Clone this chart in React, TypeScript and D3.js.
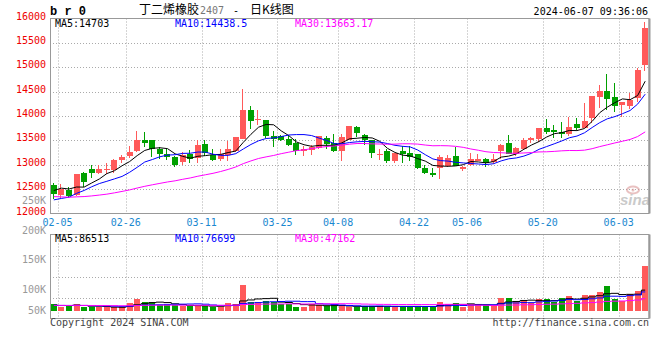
import React from 'react';
import * as d3 from 'd3';

const dates = [
  '02-05','02-06','02-07','02-08','02-19','02-20','02-21','02-22','02-23','02-26','02-27','02-28','02-29',
  '03-01','03-04','03-05','03-06','03-07','03-08','03-11','03-12','03-13','03-14','03-15','03-18','03-19','03-20','03-21','03-22','03-25','03-26','03-27','03-28','03-29',
  '04-01','04-02','04-03','04-08','04-09','04-10','04-11','04-12','04-15','04-16','04-17','04-18','04-19','04-22','04-23','04-24','04-25','04-26','04-29','04-30',
  '05-06','05-07','05-08','05-09','05-10','05-13','05-14','05-15','05-16','05-17','05-20','05-21','05-22','05-23','05-24','05-27','05-28','05-29','05-30','05-31',
  '06-03','06-04','06-05','06-06','06-07'
];
const tickDates = ['02-05','02-26','03-11','03-25','04-08','04-22','05-06','05-20','06-03'];

const opens = [
  12592,12374,12483,12374,12823,12905,12823,12885,12885,13095,
  13177,13279,13517,13503,13326,13211,13156,13054,13218,13143,
  13435,13190,13122,13197,13279,13537,14129,13918,13925,13598,
  13585,13537,13449,13292,13300,13347,13551,13449,13279,13517,
  13768,13619,13503,13211,13279,13075,13279,13245,13211,12925,
  12837,12932,12980,13184,12912,13000,13082,13116,13048,13286,
  13442,13218,13333,13503,13537,13762,13707,13679,13625,13836,
  13762,13965,14395,14512,14395,14225,14211,14375,15044
];
const highs = [
  12620,12600,12545,12810,12857,13000,12986,13040,13110,13210,
  13394,13700,13666,13503,13367,13313,13177,13258,13300,13503,
  13503,13313,13326,13496,13564,14557,14197,14129,13925,13700,
  13619,13619,13537,13381,13415,13598,13598,13639,13639,13802,
  13789,13639,13517,13326,13313,13231,13381,13394,13211,12993,
  12925,13190,13197,13354,12980,13238,13218,13129,13218,13422,
  13605,13367,13558,13578,13762,13945,13809,13883,13986,13953,
  14272,14410,14640,14860,14669,14280,14465,14989,15930
];
const lows = [
  12293,12327,12327,12360,12551,12735,12803,12803,12837,13040,
  13143,13258,13367,13163,13109,13088,12959,13000,13040,13040,
  13177,13075,13075,13075,13258,13537,13741,13823,13551,13360,
  13483,13381,13190,13177,13197,13326,13326,13258,13075,13503,
  13571,13415,13129,13095,13041,13041,13041,13075,12905,12803,
  12755,12700,12946,12980,12878,12980,13082,12946,13014,13116,
  13218,13184,13306,13456,13469,13626,13558,13544,13600,13714,
  13762,13857,14170,14129,14076,13986,14137,14280,14921
];
const closes = [
  12402,12497,12360,12803,12646,12823,12905,12918,13095,13156,
  13252,13517,13449,13313,13211,13163,12986,13190,13122,13408,
  13231,13088,13211,13313,13564,14129,13904,13938,13598,13530,
  13503,13415,13292,13313,13367,13598,13428,13279,13571,13789,
  13653,13503,13231,13224,13075,13231,13224,13156,12939,12823,
  12789,13160,13129,12980,12946,13116,13116,13034,13116,13401,
  13218,13340,13510,13551,13762,13680,13680,13625,13769,13748,
  13898,14410,14512,14340,14211,14280,14328,14942,15808
];
const volumes = [
  27500,16400,19300,27500,16400,13500,16400,13500,13500,13500,
  32800,48000,35700,35700,23400,23400,23400,19300,19300,19300,
  19300,16400,16400,32800,27500,106600,36900,36900,39800,34000,
  28700,28700,16400,16400,27500,23400,19300,18500,18500,16400,
  16400,16400,18500,18500,18500,16400,16400,18500,18500,16400,
  16400,35700,27500,32800,16400,27500,23400,23400,23400,53300,
  53300,35700,43900,29900,48000,48000,36900,53300,60300,39800,
  64400,64400,77900,101300,48000,39800,68500,80800,184500
];
// sessions before 02-05 (off-chart), estimated so the moving averages start where the picture shows
const priorCloses = [
  12650,12600,12550,12480,12420,12380,12350,12300,12280,12320,
  12350,12400,12380,12330,12300,12280,12250,12300,12350,12330,
  12200,12100,12020,12050,12065,12250,12450,12600,12653
];
const priorVolumes = [
  21000,24000,19000,23000,22000,20000,25000,21000,22000,24000,
  20000,23000,21000,22000,19000,24000,22000,21000,23000,20000,
  22000,21000,24000,20000,22000,23000,19000,21000,22000
];

const priceTicks = [12000,12500,13000,13500,14000,14500,15000,15500,16000];
const volumeTickValues = [50000,100000,150000,200000,250000];
const maPeriods = [5,10,30];
const maColors = ['#000000','#0000ff','#ff00ff'];
const priceMaLabels = ['MA5:14703','MA10:14438.5','MA30:13663.17'];
const volumeMaLabels = ['MA5:86513','MA10:76699','MA30:47162'];
const titleName = '丁二烯橡胶';
const titleCode = '2407';
const titleKind = '日K线图';
const stamp = '2024-06-07 09:36:06';

const MONO = "'DejaVu Sans Mono', 'Liberation Mono', monospace";
const CJK = "'Noto Sans CJK SC', sans-serif";
const UP = '#ff5a5a';
const DOWN = '#00a000';

function movingAverage(series: number[], prior: number[], p: number): number[] {
  const all = prior.concat(series);
  const off = prior.length;
  return series.map((_, i) => d3.mean(all.slice(off + i - p + 1, off + i + 1)) as number);
}

export default function App() {
  const W = 660, H = 360;
  const L = 50, R = 649;
  const mainTop = 18.5, mainBot = 213.5;
  const volTop = 234.5, volBot = 318.5, volBase = 310.7;
  const n = dates.length;

  const x = d3.scaleBand<number>().domain(d3.range(n)).range([L, R]).paddingInner(0.2).paddingOuter(0.1);
  const step = x.step();
  const bw = Math.round(x.bandwidth());
  const cx = (i: number) => (x(i) as number) + x.bandwidth() / 2;
  const slotEnd = (i: number) => cx(i) + step / 2;

  const y = d3.scaleLinear().domain([12000, 16000]).range([mainBot, mainTop]);
  const vy = d3.scaleLinear().domain([0, 200000]).range([volBase, volBase - 200000 / 4100]);
  const vLabelY = d3.scaleLinear().domain([100000, 250000]).range([293, 204]);

  const priceMA = maPeriods.map(p => movingAverage(closes, priorCloses, p));
  const volMA = maPeriods.map(p => movingAverage(volumes, priorVolumes, p));

  const priceLine = d3.line<number>().x((_, i) => cx(i)).y(d => y(d));
  const volLine = d3.line<number>().x((_, i) => cx(i)).y(d => vy(d)).curve(d3.curveStep);

  const gridColor = '#aaaaaa';
  const dash = '1,2';
  const tickIdx = tickDates.map(t => dates.indexOf(t));
  const volQuarters = [1, 2, 3].map(k => volTop + (volBot - volTop) * k / 4);

  return (
    <svg width={W} height={H} style={{ position: 'absolute', left: 0, top: 0, background: '#fff' }}>
      <rect x={0} y={0} width={W} height={H} fill="#fff" />
      {/* header */}
      <text x={50} y={15} fontFamily="'Liberation Mono', monospace" fontWeight="bold" fontSize={12}>b r 0</text>
      <text x={139} y={14} fontFamily={CJK} fontSize={12} fill="#000">{titleName}</text>
      <text x={200} y={14} fontFamily={MONO} fontSize={10} fill="#777">{titleCode}</text>
      <text x={233} y={14} fontFamily={MONO} fontSize={10} fill="#000">-</text>
      <text x={250} y={14} fontFamily={CJK} fontSize={12} fill="#000">{titleKind}</text>
      <text x={648} y={15} textAnchor="end" fontFamily={MONO} fontSize={10} fill="#000">{stamp}</text>

      {/* main grid */}
      {priceTicks.filter(t => t > 12000 && t < 16000).map(t => (
        <line key={'hg' + t} x1={L} x2={R} y1={Math.round(y(t)) + 0.5} y2={Math.round(y(t)) + 0.5} stroke={gridColor} strokeDasharray={dash} />
      ))}
      {tickIdx.map(i => (
        <g key={'vg' + i}>
          <line x1={Math.round(slotEnd(i)) + 0.5} x2={Math.round(slotEnd(i)) + 0.5} y1={mainTop} y2={mainBot} stroke={gridColor} strokeDasharray={dash} />
          <line x1={Math.round(slotEnd(i)) + 0.5} x2={Math.round(slotEnd(i)) + 0.5} y1={volTop} y2={volBot} stroke={gridColor} strokeDasharray={dash} />
        </g>
      ))}
      {volQuarters.map((q, k) => (
        <line key={'vq' + k} x1={L} x2={R} y1={Math.round(q) + 0.5} y2={Math.round(q) + 0.5} stroke={gridColor} strokeDasharray={dash} />
      ))}

      {/* price labels */}
      {priceTicks.map(t => (
        <text key={'pl' + t} x={46} y={y(t) + 1} textAnchor="end" fontFamily={MONO} fontSize={10} fill="#ee0000">{t}</text>
      ))}
      {/* volume labels */}
      {volumeTickValues.map(v => (
        <text key={'vl' + v} x={46} y={Math.min(vLabelY(v), 313.7)} textAnchor="end" fontFamily={MONO} fontSize={10} fill="#999">{`${v / 1000}K`}</text>
      ))}

      {/* sina watermark */}
      <g opacity={0.55}>
        <ellipse cx={633} cy={190} rx={6} ry={3.5} fill="none" stroke="#d89090" strokeWidth={2} />
        <circle cx={633} cy={190} r={1.5} fill="#d89090" />
        <text x={620} y={205} fontFamily="'Liberation Sans', sans-serif" fontStyle="italic" fontWeight="bold" fontSize={15} fill="#a0a0a0">sina</text>
      </g>

      {/* candles */}
      {dates.map((d, i) => {
        const up = closes[i] >= opens[i];
        const col = up ? UP : DOWN;
        const bx = Math.round(x(i) as number);
        const wx = bx + 2.5;
        const top = Math.round(y(Math.max(opens[i], closes[i])));
        const bot = Math.round(y(Math.min(opens[i], closes[i])));
        return (
          <g key={'c' + i}>
            <line x1={wx} x2={wx} y1={Math.round(y(highs[i]))} y2={Math.round(y(lows[i]))} stroke={col} />
            <rect x={bx} y={top} width={bw} height={Math.max(1, bot - top)} fill={col} shapeRendering="crispEdges" />
          </g>
        );
      })}
      {/* price MAs */}
      {priceMA.map((s, k) => (
        <path key={'pm' + k} d={priceLine(s) as string} fill="none" stroke={maColors[k]} strokeWidth={1} />
      ))}

      {/* volume bars */}
      {volumes.map((v, i) => {
        const up = closes[i] >= opens[i];
        const bx = Math.round(x(i) as number);
        const top = Math.round(vy(v));
        return <rect key={'v' + i} x={bx} y={top} width={bw} height={Math.max(1, Math.round(volBase) - top)} fill={up ? UP : DOWN} shapeRendering="crispEdges" />;
      })}
      {volMA.map((s, k) => (
        <path key={'vm' + k} d={volLine(s) as string} fill="none" stroke={maColors[k]} strokeWidth={1} />
      ))}

      {/* panel borders */}
      <rect x={L + 0.5} y={mainTop} width={R - L - 0.5} height={mainBot - mainTop} fill="none" stroke="#999" />
      <line x1={R + 0.5} x2={R + 0.5} y1={mainTop} y2={mainBot} stroke="#999" strokeWidth={2} />
      <rect x={L + 0.5} y={volTop} width={R - L - 0.5} height={volBot - volTop} fill="none" stroke="#999" />
      <line x1={R + 0.5} x2={R + 0.5} y1={volTop} y2={volBot} stroke="#999" strokeWidth={2} />

      {/* MA legends */}
      {priceMaLabels.map((t, k) => (
        <text key={'pml' + k} x={55 + 120 * k} y={27} fontFamily={MONO} fontSize={10} fill={maColors[k]}>{t}</text>
      ))}
      {volumeMaLabels.map((t, k) => (
        <text key={'vml' + k} x={55 + 120 * k} y={242} fontFamily={MONO} fontSize={10} fill={maColors[k]}>{t}</text>
      ))}

      {/* date labels */}
      {tickIdx.map((i, k) => (
        <text key={'dl' + k} x={slotEnd(i)} y={225.5} textAnchor="middle" fontFamily={MONO} fontSize={10} fill="#1a88d0">{tickDates[k]}</text>
      ))}

      {/* footer */}
      <text x={50} y={326} fontFamily={MONO} fontSize={10} fill="#444">Copyright 2024 SINA.COM</text>
      <text x={649} y={326} textAnchor="end" fontFamily={MONO} fontSize={10} fill="#444">http://finance.sina.com.cn</text>
    </svg>
  );
}
